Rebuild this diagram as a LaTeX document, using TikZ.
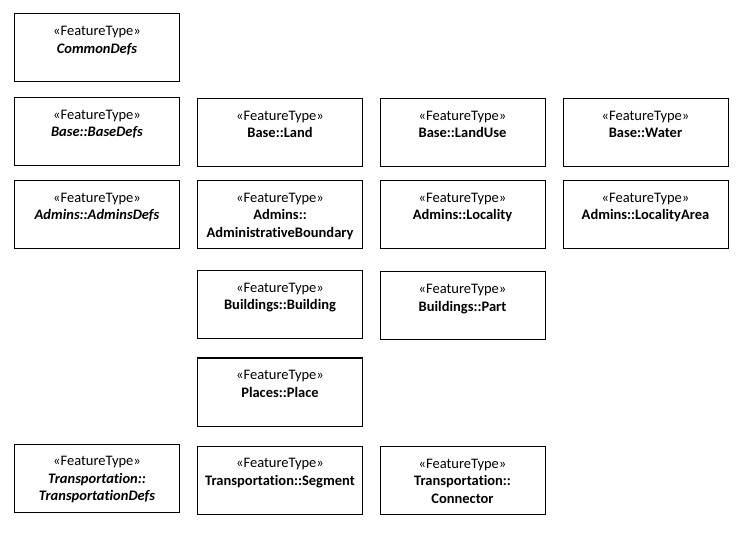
\documentclass[tikz,border=0pt]{standalone}
\usepackage{fontspec}
\setmainfont{Carlito}[Ligatures=NoCommon]
\newcommand{\stereo}{\rule{0pt}{16pt}«FeatureType»}

\begin{document}
\begin{tikzpicture}[x=1pt,y=-1pt]
\tikzstyle{feature} =[draw, line width=1pt, minimum width=165pt, minimum height=68pt, inner sep=0pt, align=center, font=\fontsize{14.5}{17.5}\selectfont]

\useasboundingbox (0,0) rectangle (745,556);

% first column: the abstract defs
\node[feature](commondefs) at (97,48){\stereo\\\textbf{\textit{CommonDefs}}\\\strut};
\node[feature](basedefs) at (97,131.5){\stereo\\\textbf{\textit{Base::BaseDefs}}\\\strut};
\node[feature](adminsdefs) at (97,214.5){\stereo\\\textbf{\textit{Admins::AdminsDefs}}\\\strut};
\node[feature](transportationdefs) at (97,478){\stereo\\\textbf{\textit{Transportation::}}\\\textbf{\textit{TransportationDefs}}\strut};

% base
\node[feature](land) at (280,132.5){\stereo\\\textbf{Base::Land}\\\strut};
\node[feature](landuse) at (462.5,132.5){\stereo\\\textbf{Base::LandUse}\\\strut};
\node[feature](water) at (645.5,132.5){\stereo\\\textbf{Base::Water}\\\strut};

% admins
\node[feature](boundary) at (280,214.5){\stereo\\\textbf{Admins::}\\\textbf{AdministrativeBoundary}\strut};
\node[feature](locality) at (462.5,214.5){\stereo\\\textbf{Admins::Locality}\\\strut};
\node[feature](localityarea) at (645.5,214.5){\stereo\\\textbf{Admins::LocalityArea}\\\strut};

% buildings, places
\node[feature](building) at (280,304.5){\stereo\\\textbf{Buildings::Building}\\\strut};
\node[feature](part) at (462.5,306){\stereo\\\textbf{Buildings::Part}\\\strut};
\node[feature](place) at (280,392){\stereo\\\textbf{Places::Place}\\\strut};

% transportation
\node[feature](segment) at (280,480){\stereo\\\textbf{Transportation::Segment}\\\strut};
\node[feature](connector) at (462.5,480.5){\stereo\\\textbf{Transportation::}\\\textbf{Connector}\strut};
\end{tikzpicture}
\end{document}
